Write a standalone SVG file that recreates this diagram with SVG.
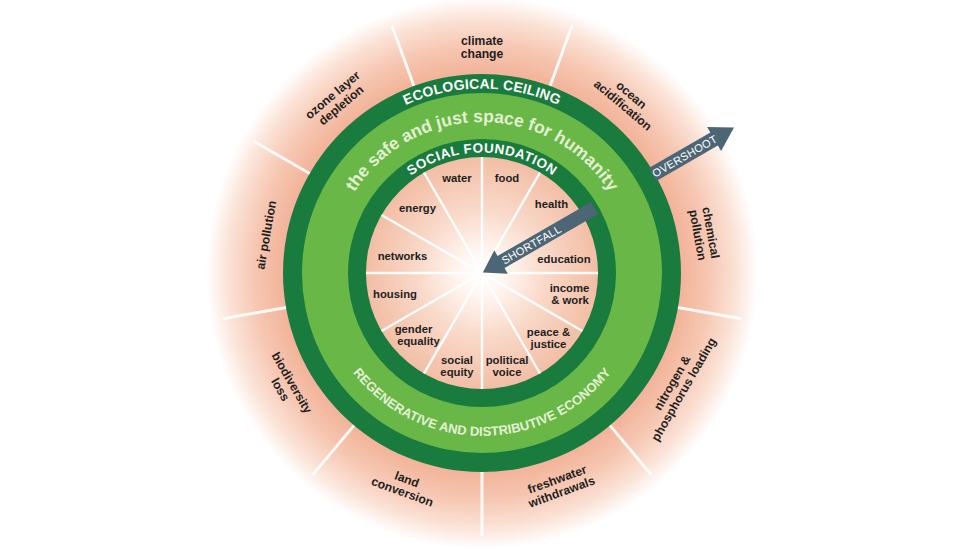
<svg xmlns="http://www.w3.org/2000/svg" width="980" height="549" viewBox="0 0 980 549">
<defs>
<radialGradient id="outerG" gradientUnits="userSpaceOnUse" cx="482" cy="273" r="276">
<stop offset="0" stop-color="#f2b399"/>
<stop offset="0.72" stop-color="#f2b399"/>
<stop offset="0.82" stop-color="#f6c6b1"/>
<stop offset="0.92" stop-color="#fbe2d6"/>
<stop offset="1" stop-color="#ffffff"/>
</radialGradient>
<radialGradient id="innerG" gradientUnits="userSpaceOnUse" cx="482" cy="273" r="116">
<stop offset="0" stop-color="#ffffff"/>
<stop offset="0.2" stop-color="#fff6f1"/>
<stop offset="0.55" stop-color="#f9d9c9"/>
<stop offset="1" stop-color="#f2bea5"/>
</radialGradient>
<path id="ecoPath" d="M 297.5 273 A 184.5 184.5 0 0 1 666.5 273"/>
<path id="socPath" d="M 361.5 273 A 120.5 120.5 0 0 1 602.5 273"/>
<path id="safePath" d="M 331 273 A 151 151 0 0 1 633 273"/>
<path id="regenPath" d="M 319 273 A 163 163 0 0 0 645 273"/>
<style>
text{font-family:"Liberation Sans",Arial,sans-serif;}
.lbl{font-size:11.3px;font-weight:bold;fill:#1f1f1f;text-anchor:middle;}
.out{font-size:12.2px;font-weight:bold;fill:#1f1f1f;text-anchor:middle;}
.ring{fill:#ffffff;text-anchor:middle;font-weight:bold;}
.spoke{stroke:#ffffff;stroke-width:3;stroke-linecap:round;}
.ispoke{stroke:#ffffff;stroke-width:2.5;}
.arrow{fill:#4d6676;}
.atext{font-size:11px;fill:#ffffff;text-anchor:middle;letter-spacing:0.3px;}
</style>
</defs>
<rect width="980" height="549" fill="#ffffff"/>
<g id="outer-zone">
<circle cx="482" cy="273" r="276" fill="url(#outerG)"/>
<g opacity="0.9">
<line class="spoke" x1="413.9" y1="86" x2="392.4" y2="26.8"/>
<line class="spoke" x1="550.1" y1="86" x2="571.6" y2="26.8"/>
<line class="spoke" x1="654.3" y1="173.5" x2="708.9" y2="142"/>
<line class="spoke" x1="678" y1="307.5" x2="740" y2="318.5"/>
<line class="spoke" x1="609.9" y1="425.4" x2="650.4" y2="473.7"/>
<line class="spoke" x1="482" y1="472" x2="482" y2="535"/>
<line class="spoke" x1="354.1" y1="425.4" x2="313.6" y2="473.7"/>
<line class="spoke" x1="286" y1="307.5" x2="224" y2="318.5"/>
<line class="spoke" x1="309.7" y1="173.5" x2="255.1" y2="142"/>
</g>
</g>
<g id="ecological-ceiling">
<circle cx="482" cy="273" r="199" fill="#197b3d"/>
<text class="ring" style="font-size:14px;letter-spacing:0.2px"><textPath href="#ecoPath" startOffset="50%">ECOLOGICAL CEILING</textPath></text>
</g>
<g id="safe-space">
<circle cx="482" cy="273" r="180" fill="#69b747"/>
<text style="font-size:17.5px;font-weight:bold;fill:#e2f1d0;text-anchor:middle"><textPath href="#safePath" startOffset="50%">the safe and just space for humanity</textPath></text>
<text style="font-size:13px;font-weight:bold;fill:#e3f1d5;text-anchor:middle"><textPath href="#regenPath" startOffset="50%">REGENERATIVE AND DISTRIBUTIVE ECONOMY</textPath></text>
</g>
<g id="social-foundation">
<circle cx="482" cy="273" r="134" fill="#197b3d"/>
<text class="ring" style="font-size:13.5px;letter-spacing:0.5px"><textPath href="#socPath" startOffset="50%">SOCIAL FOUNDATION</textPath></text>
</g>
<g id="inner-disk">
<circle cx="482" cy="273" r="116" fill="url(#innerG)"/>
<g opacity="0.95">
<line class="ispoke" x1="366" y1="273" x2="598" y2="273"/>
<line class="ispoke" x1="381.5" y1="215" x2="582.5" y2="331"/>
<line class="ispoke" x1="424" y1="172.5" x2="540" y2="373.5"/>
<line class="ispoke" x1="482" y1="157" x2="482" y2="389"/>
<line class="ispoke" x1="540" y1="172.5" x2="424" y2="373.5"/>
<line class="ispoke" x1="582.5" y1="215" x2="381.5" y2="331"/>
</g>
</g>
<g id="social-labels">
<text class="lbl" x="457" y="182">water</text>
<text class="lbl" x="507" y="182">food</text>
<text class="lbl" x="417.5" y="212.3">energy</text>
<text class="lbl" x="551.5" y="208.3">health</text>
<text class="lbl" x="402.5" y="260">networks</text>
<text class="lbl" x="564" y="262.7">education</text>
<text class="lbl" x="395" y="297.7">housing</text>
<text class="lbl" x="569.5" y="291.8">income</text>
<text class="lbl" x="570" y="303.8">&amp; work</text>
<text class="lbl" x="413.5" y="332.8">gender</text>
<text class="lbl" x="418.5" y="344.8">equality</text>
<text class="lbl" x="548.5" y="335.8">peace &amp;</text>
<text class="lbl" x="548.5" y="347.6">justice</text>
<text class="lbl" x="457" y="364">social</text>
<text class="lbl" x="457" y="376">equity</text>
<text class="lbl" x="507" y="364">political</text>
<text class="lbl" x="507" y="376">voice</text>
</g>
<g id="ecological-labels">
<g transform="translate(482 47) rotate(0)"><text class="out" y="-2.3">climate</text><text class="out" y="11">change</text></g>
<g transform="translate(627.3 99.9) rotate(40)"><text class="out" y="-2.3">ocean</text><text class="out" y="11">acidification</text></g>
<g transform="translate(704.6 233.8) rotate(80)"><text class="out" y="-2.3">chemical</text><text class="out" y="11">pollution</text></g>
<g transform="translate(677.7 386) rotate(-60)"><text class="out" y="-2.3">nitrogen &amp;</text><text class="out" y="11">phosphorus loading</text></g>
<g transform="translate(559.3 485.4) rotate(-20)"><text class="out" y="-2.3">freshwater</text><text class="out" y="11">withdrawals</text></g>
<g transform="translate(404.7 485.4) rotate(20)"><text class="out" y="-2.3">land</text><text class="out" y="11">conversion</text></g>
<g transform="translate(286.3 386) rotate(60)"><text class="out" y="-2.3">biodiversity</text><text class="out" y="11">loss</text></g>
<g transform="translate(266.3 235) rotate(-80)"><text class="out" y="4">air pollution</text></g>
<g transform="translate(336.7 99.9) rotate(-40)"><text class="out" y="-2.3">ozone layer</text><text class="out" y="11">depletion</text></g>
</g>
<g id="connectors" transform="translate(482 273) rotate(-30)">
<g id="overshoot">
<polygon class="arrow" points="197,-7.5 268,-7.5 268,-14 291,0 268,14 268,7.5 197,7.5"/>
<text class="atext" x="234" y="4">OVERSHOOT</text>
</g>
<g id="shortfall">
<polygon class="arrow" points="1,0 22,-13.5 22,-7 130,-7 130,7 22,7 22,13.5"/>
<text class="atext" x="57" y="4">SHORTFALL</text>
</g>
</g>
</svg>
